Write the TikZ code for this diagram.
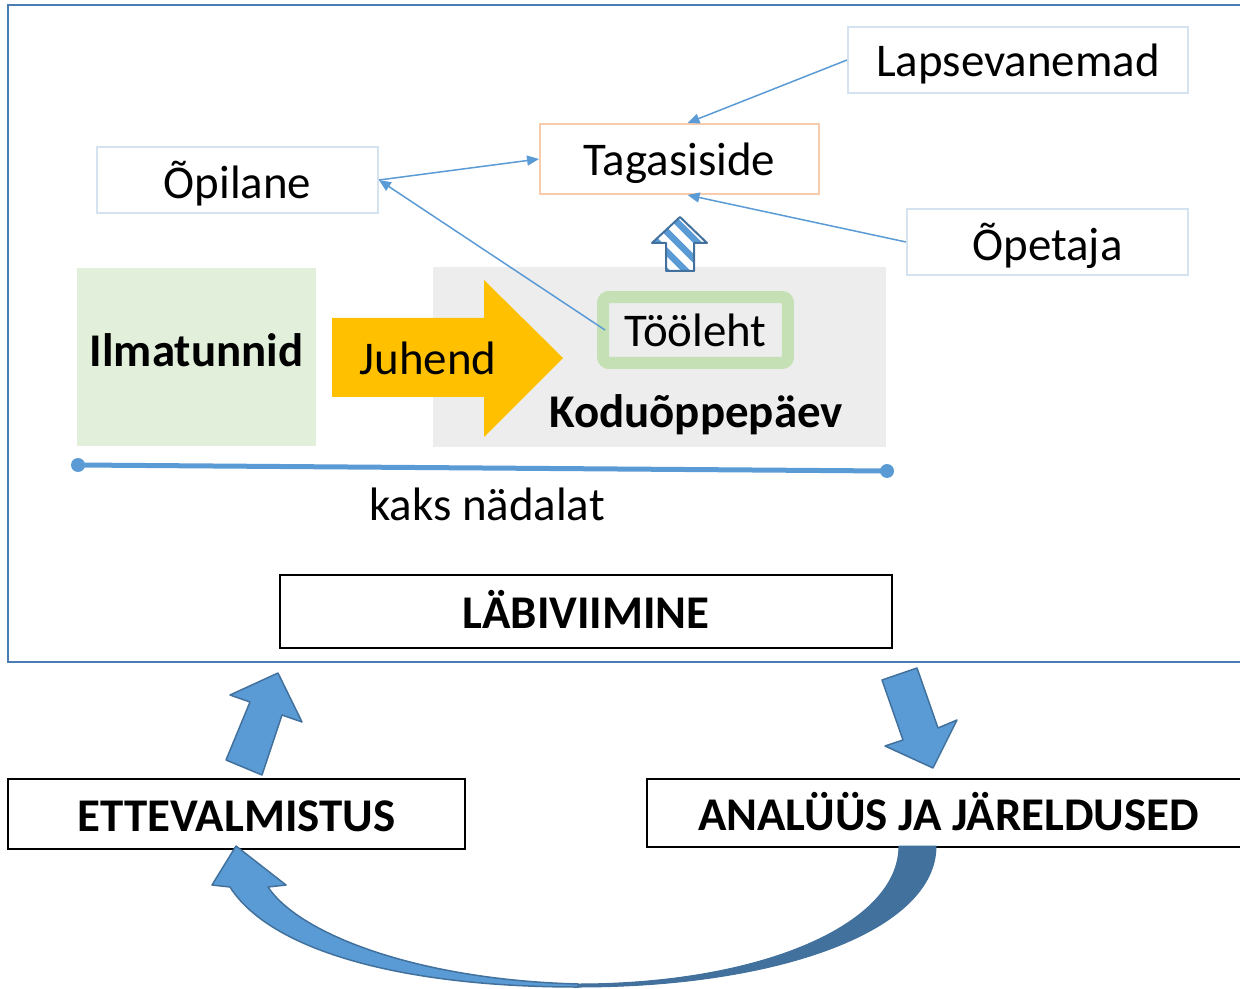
\documentclass[tikz,border=0pt]{standalone}
\usepackage{fontspec}
\setmainfont{Carlito}
\usetikzlibrary{arrows.meta,calc}
\definecolor{blueline}{HTML}{5B9BD5}
\definecolor{bluedark}{HTML}{41719C}
\definecolor{framecol}{HTML}{4A7DB4}
\definecolor{boxblue}{HTML}{D5E3F1}
\definecolor{boxorange}{HTML}{F8CBAD}
\definecolor{greenfill}{HTML}{E2EFDA}
\definecolor{greenline}{HTML}{C5E0B4}
\definecolor{grayfill}{HTML}{EDEDED}
\definecolor{juhendcol}{HTML}{FFC000}

\begin{document}
\begin{tikzpicture}[x=0.02cm,y=-0.02cm,font=\fontsize{26.7}{32}\selectfont]
\tikzset{
  textbox/.style={draw=boxblue,line width=0.04cm,fill=white,minimum width=5.62cm,minimum height=1.32cm,inner sep=0pt,text depth=0pt},
  stagebox/.style={draw=black,line width=0.04cm,fill=white,inner sep=0pt,text height=0.68cm,text depth=0pt,font=\fontsize{26.7}{32}\selectfont\bfseries},
  conn/.style={blueline,line width=0.03cm,-{Triangle[length=0.24cm,width=0.2cm]}},
  blockarrow/.style={fill=blueline,draw=bluedark,line width=0.03cm,line join=round}
}
\useasboundingbox (0,0) rectangle (1240,989);
\clip (0,0) rectangle (1240,989);

\begin{scope}
\draw[framecol,line width=0.05cm] (8,5) rectangle (1260,662);

\node[textbox,minimum width=6.8cm] (lapse) at (1018,60) {Lapsevanemad};
\node[textbox,draw=boxorange,minimum width=5.58cm,minimum height=1.4cm] (taga) at (679.5,159) {Tagasiside};
\node[textbox] (opil) at (237.5,180) {Õpilane};
\node[textbox] (opet) at (1047.5,242) {Õpetaja};

\node[fill=greenfill,minimum width=4.78cm,minimum height=3.56cm,text depth=0.28cm,font=\fontsize{26.7}{32}\selectfont\bfseries] (ilma) at (196.5,357) {Ilmatunnid};
\node[fill=grayfill,minimum width=9.06cm,minimum height=3.6cm] (kodu) at (659.5,357) {};
\node[font=\fontsize{26.7}{32}\selectfont\bfseries] (kodutxt) at (696,415) {Koduõppepäev};

\fill[juhendcol] (332,318) -- (484,318) -- (484,280) -- (563,358) -- (484,437) -- (484,397) -- (332,397) -- cycle;
\node (juhend) at (428,358) {Juhend};

\node[draw=greenline,line width=0.24cm,rounded corners=0.12cm,minimum width=3.7cm,minimum height=1.32cm,inner sep=0pt,text depth=-0.16cm] (tool) at (695.5,330) {Tööleht};

\begin{scope}
\clip (666,271) -- (666,243) -- (652,243) -- (680,217) -- (707,243) -- (694,243) -- (694,271) -- cycle;
\fill[white] (640,210) rectangle (720,280);
\foreach \s in {-100,-80,...,60}
  \draw[blueline,line width=0.13cm] (660+\s,205) -- (740+\s,285);
\end{scope}
\draw[bluedark,line width=0.04cm,line join=round] (666,271) -- (666,243) -- (652,243) -- (680,217) -- (707,243) -- (694,243) -- (694,271) -- cycle;

\coordinate (ds) at (78,465);
\coordinate (de) at (887,471);
\draw[blueline,line width=0.1cm] (ds) -- (de);
\fill[blueline] (ds) circle (0.14cm) (de) circle (0.14cm);
\node (kaks) at (487,504) {kaks nädalat};

\node[stagebox,minimum width=12.24cm,minimum height=1.46cm] (labi) at (586,611.5) {LÄBIVIIMINE};
\node[stagebox,minimum width=9.14cm,minimum height=1.4cm] (ette) at (236.5,814) {ETTEVALMISTUS};
\node[stagebox,minimum width=12.06cm,minimum height=1.36cm] (anal) at (948.5,813) {ANALÜÜS JA JÄRELDUSED};

\draw[blockarrow] (226,760) -- (262,775) -- (282,715) -- (302,722) -- (278,673) -- (230,695) -- (250,702) -- cycle;
\draw[blockarrow] (882,680) -- (917,668) -- (938,728) -- (957,720) -- (933,768) -- (885,746) -- (903,740) -- cycle;

\fill[bluedark,draw=bluedark,line width=0.02cm] (936,846) .. controls (936,930) and (780,987) .. (578,987) -- (578,984) .. controls (760,984) and (899,925) .. (899,846) -- cycle;
\draw[blockarrow] (578,987) .. controls (400,987) and (270,950) .. (230,887) -- (212,885) -- (236,846) -- (286,885) -- (268,887) .. controls (300,935) and (420,980) .. (578,984) -- cycle;

\draw[conn] (lapse.west) -- ($(taga.north)+(8,0)$);
\draw[conn] (opil.east) -- (taga.west);
\draw[conn] (opet.west) -- ($(taga.south)+(8,0)$);
\draw[conn] ($(tool.west)+(8,0)$) -- (opil.east);
\end{scope}

\end{tikzpicture}
\end{document}
